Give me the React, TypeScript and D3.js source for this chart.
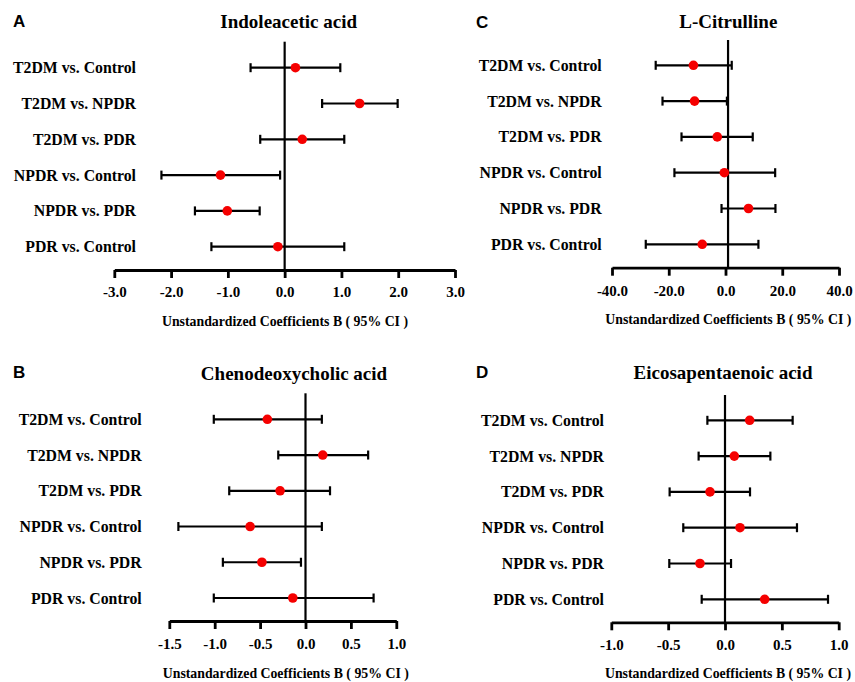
import React, { useEffect, useRef } from 'react';
import * as d3 from 'd3';

const comparisons = [
  'T2DM vs. Control',
  'T2DM vs. NPDR',
  'T2DM vs. PDR',
  'NPDR vs. Control',
  'NPDR vs. PDR',
  'PDR vs. Control'
];

// A - Indoleacetic acid
const iaaB = [0.19, 1.32, 0.31, -1.13, -1.01, -0.12];
const iaaLow = [-0.6, 0.66, -0.43, -2.17, -1.58, -1.29];
const iaaHigh = [0.98, 1.99, 1.05, -0.08, -0.44, 1.05];
const iaaTicks = [-3, -2, -1, 0, 1, 2, 3];

// B - Chenodeoxycholic acid
const cdcaB = [-0.42, 0.19, -0.28, -0.61, -0.48, -0.14];
const cdcaLow = [-1.01, -0.3, -0.84, -1.4, -0.91, -1.01];
const cdcaHigh = [0.18, 0.69, 0.27, 0.18, -0.05, 0.75];
const cdcaTicks = [-1.5, -1, -0.5, 0, 0.5, 1];

// C - L-Citrulline
const citB = [-11.3, -10.9, -2.9, -0.4, 8.1, -8.2];
const citLow = [-24.6, -22.2, -15.5, -18.0, -1.4, -28.1];
const citHigh = [2.2, 0.5, 9.6, 17.5, 17.6, 11.6];
const citTicks = [-40, -20, 0, 20, 40];

// D - Eicosapentaenoic acid
const epaB = [0.217, 0.082, -0.132, 0.132, -0.22, 0.349];
const epaLow = [-0.155, -0.232, -0.487, -0.367, -0.49, -0.205];
const epaHigh = [0.595, 0.399, 0.22, 0.633, 0.053, 0.906];
const epaTicks = [-1, -0.5, 0, 0.5, 1];

const panels = [
  {
    letter: 'A', title: 'Indoleacetic acid', est: iaaB, low: iaaLow, high: iaaHigh, ticks: iaaTicks, ref: 0,
    x0: 114.3, x1: 455, axisY: 270, rowTop: 67.7, rowBottom: 246.7, lineTop: 41.7,
    labelRight: 136, titleX: 288.7, titleY: 21, tickY: 292, axTitleX: 285, axTitleY: 321.5,
    letterX: 13, letterY: 21
  },
  {
    letter: 'B', title: 'Chenodeoxycholic acid', est: cdcaB, low: cdcaLow, high: cdcaHigh, ticks: cdcaTicks, ref: 0,
    x0: 169.3, x1: 396.3, axisY: 621, rowTop: 419.3, rowBottom: 598, lineTop: 393.3,
    labelRight: 141.7, titleX: 294, titleY: 373.3, tickY: 643.3, axTitleX: 285.8, axTitleY: 673.3,
    letterX: 13, letterY: 371.7
  },
  {
    letter: 'C', title: 'L-Citrulline', est: citB, low: citLow, high: citHigh, ticks: citTicks, ref: 0.9,
    x0: 612, x1: 839, axisY: 267.7, rowTop: 65.3, rowBottom: 244.3, lineTop: 40,
    labelRight: 601.7, titleX: 728.3, titleY: 21.7, tickY: 291, axTitleX: 728.3, axTitleY: 319,
    letterX: 476, letterY: 21.7
  },
  {
    letter: 'D', title: 'Eicosapentaenoic acid', est: epaB, low: epaLow, high: epaHigh, ticks: epaTicks, ref: 0,
    x0: 611.3, x1: 838.7, axisY: 622.3, rowTop: 420.3, rowBottom: 599.3, lineTop: 395,
    labelRight: 604, titleX: 723, titleY: 372.7, tickY: 645, axTitleX: 728, axTitleY: 673.3,
    letterX: 476, letterY: 371.7
  }
];

const serif = 'Liberation Serif, Times New Roman, serif';
const sans = 'Liberation Sans, Arial, sans-serif';

const App = () => {
  const svgRef = useRef(null);

  useEffect(() => {
    document.body.style.margin = '0';
    const svg = d3.select(svgRef.current);
    svg.selectAll('*').remove();

    panels.forEach(p => {
      const g = svg.append('g');
      const x = d3.scaleLinear().domain([p.ticks[0], p.ticks[p.ticks.length - 1]]).range([p.x0, p.x1]);
      const y = d3.scalePoint().domain(comparisons).range([p.rowTop, p.rowBottom]);

      g.append('text')
        .attr('x', p.letterX).attr('y', p.letterY)
        .attr('dy', '0.35em')
        .style('font-family', sans).style('font-weight', 'bold').style('font-size', '17px')
        .text(p.letter);

      g.append('text')
        .attr('x', p.titleX).attr('y', p.titleY)
        .attr('dy', '0.35em').attr('text-anchor', 'middle')
        .style('font-family', serif).style('font-weight', 'bold').style('font-size', '19px')
        .text(p.title);

      // reference line
      g.append('line')
        .attr('x1', x(p.ref)).attr('x2', x(p.ref))
        .attr('y1', p.lineTop).attr('y2', p.axisY)
        .attr('stroke', '#000').attr('stroke-width', 2.2);

      // x axis
      const axis = g.append('g')
        .attr('transform', `translate(0,${p.axisY})`)
        .call(d3.axisBottom(x).tickValues(p.ticks).tickSize(8).tickSizeOuter(0).tickFormat(d => (+d).toFixed(1)));
      axis.select('.domain').attr('stroke', '#000').attr('stroke-width', 2.8);
      axis.selectAll('.tick line').attr('stroke', '#000').attr('stroke-width', 2.8);
      axis.selectAll('.tick text')
        .attr('y', p.tickY - p.axisY).attr('dy', '0.35em')
        .attr('fill', '#000')
        .style('font-family', serif).style('font-weight', 'bold').style('font-size', '15px');

      g.append('text')
        .attr('x', p.axTitleX).attr('y', p.axTitleY)
        .attr('dy', '0.35em').attr('text-anchor', 'middle')
        .style('font-family', serif).style('font-weight', 'bold').style('font-size', '13.8px')
        .text('Unstandardized Coefficients B ( 95% CI )');

      // row labels
      g.selectAll('.rowlabel').data(comparisons).enter().append('text')
        .attr('x', p.labelRight).attr('y', d => y(d))
        .attr('dy', '0.35em').attr('text-anchor', 'end')
        .style('font-family', serif).style('font-weight', 'bold').style('font-size', '15.8px')
        .text(d => d);

      const rows = comparisons.map((c, i) => ({ c, est: p.est[i], low: p.low[i], high: p.high[i] }));

      const bars = g.selectAll('.bar').data(rows).enter().append('g');
      bars.append('line')
        .attr('x1', d => x(d.low)).attr('x2', d => x(d.high))
        .attr('y1', d => y(d.c)).attr('y2', d => y(d.c))
        .attr('stroke', '#000').attr('stroke-width', 2.2);
      bars.append('line')
        .attr('x1', d => x(d.low)).attr('x2', d => x(d.low))
        .attr('y1', d => y(d.c) - 4.5).attr('y2', d => y(d.c) + 4.5)
        .attr('stroke', '#000').attr('stroke-width', 2.2);
      bars.append('line')
        .attr('x1', d => x(d.high)).attr('x2', d => x(d.high))
        .attr('y1', d => y(d.c) - 4.5).attr('y2', d => y(d.c) + 4.5)
        .attr('stroke', '#000').attr('stroke-width', 2.2);
      bars.append('circle')
        .attr('cx', d => x(d.est)).attr('cy', d => y(d.c))
        .attr('r', 4.8).attr('fill', '#f50000');
    });
  }, []);

  return <svg ref={svgRef} width={855} height={682} style={{ display: 'block', background: '#fff' }}></svg>;
};

export default App;
